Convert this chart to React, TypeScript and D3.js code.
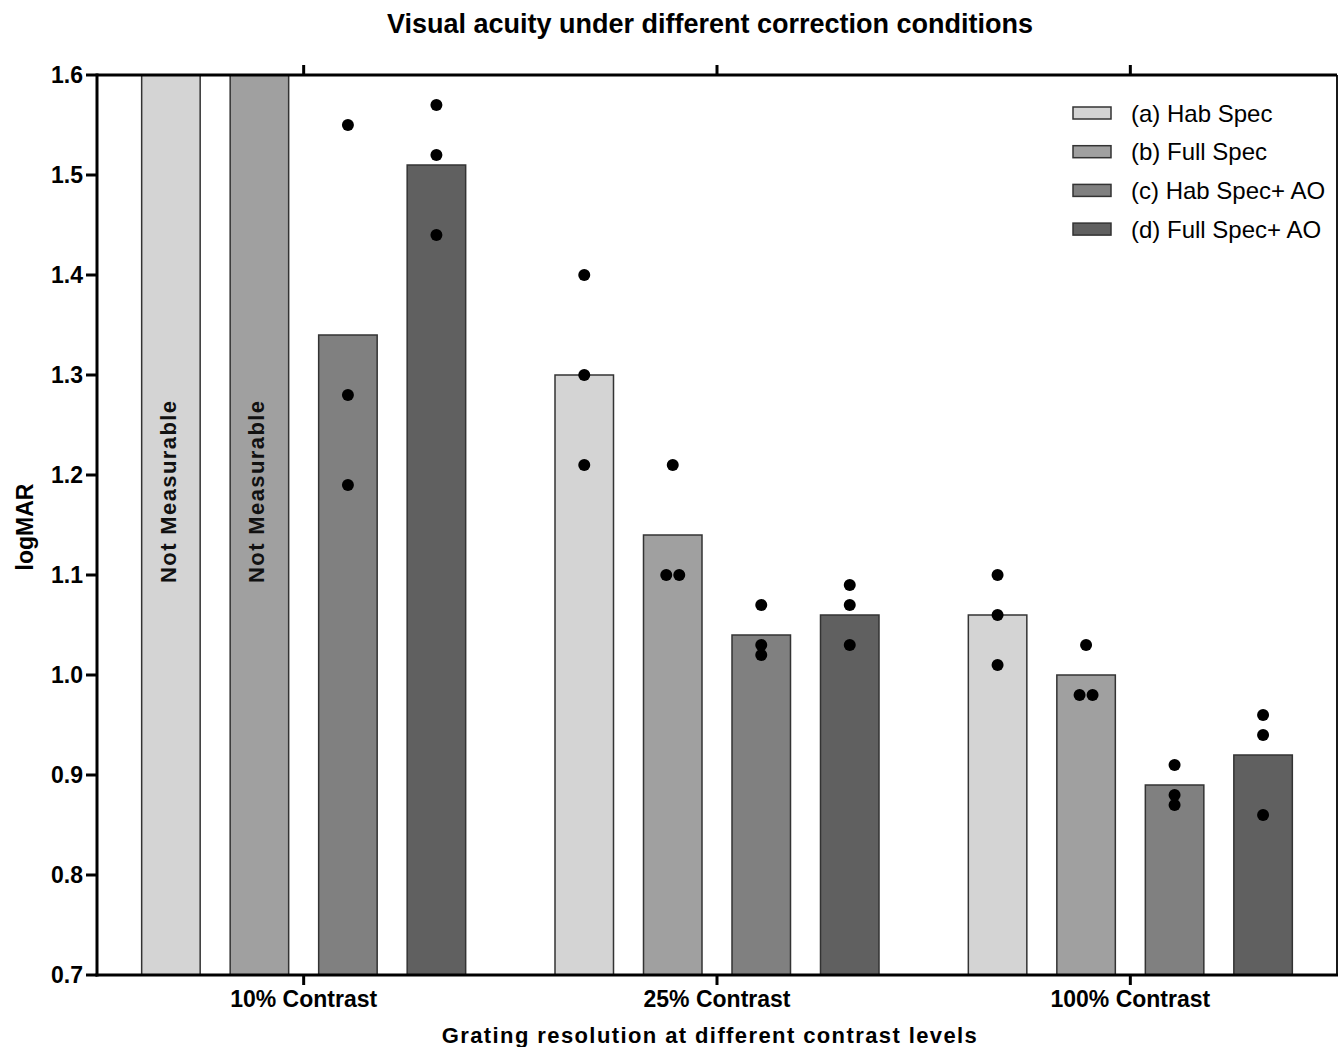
import React from "react";
import * as d3 from "d3";

const groups = ["10% Contrast", "25% Contrast", "100% Contrast"];
const seriesNames = ["(a) Hab Spec", "(b) Full Spec", "(c) Hab Spec+ AO", "(d) Full Spec+ AO"];
const seriesColors = ["#d4d4d4", "#a0a0a0", "#808080", "#606060"];
// mean values per group (rows) per series (cols); null = not measurable
const means: (number | null)[][] = [
  [null, null, 1.34, 1.51],
  [1.30, 1.14, 1.04, 1.06],
  [1.06, 1.00, 0.89, 0.92],
];
// individual points: [value, horizontal jitter slot]
const points: [number, number][][][] = [
  [[], [], [[1.55, 0], [1.28, 0], [1.19, 0]], [[1.57, 0], [1.52, 0], [1.44, 0]]],
  [[[1.40, 0], [1.30, 0], [1.21, 0]], [[1.21, 0], [1.10, -1], [1.10, 1]], [[1.07, 0], [1.03, 0], [1.02, 0]], [[1.09, 0], [1.07, 0], [1.03, 0]]],
  [[[1.10, 0], [1.06, 0], [1.01, 0]], [[1.03, 0], [0.98, -1], [0.98, 1]], [[0.91, 0], [0.88, 0], [0.87, 0]], [[0.96, 0], [0.94, 0], [0.86, 0]]],
];
const yTicks = [0.7, 0.8, 0.9, 1.0, 1.1, 1.2, 1.3, 1.4, 1.5, 1.6];

export default function App() {
  const W = 1339, H = 1047;
  const left = 97, right = 1337, top = 75, bottom = 975;
  const y = d3.scaleLinear().domain([0.7, 1.6]).range([bottom, top]);
  const x0 = d3.scaleBand<string>().domain(groups).range([left, right]).padding(0);
  const step = 88.5, bw = 58.5;
  const barX = (g: number, s: number) => (x0(groups[g]) as number) + x0.bandwidth() / 2 + (s - 1.5) * step - bw / 2;
  const font = "Arial, 'Liberation Sans', Helvetica, sans-serif";

  return (
    <svg width={W} height={H} style={{ position: "absolute", left: 0, top: 0, background: "#fff" }} fontFamily={font}>
      <rect x={0} y={0} width={W} height={H} fill="#fff" />
      <text x={710} y={33} textAnchor="middle" fontSize={27} fontWeight="bold">Visual acuity under different correction conditions</text>

      {/* bars */}
      {means.map((row, g) =>
        row.map((v, s) => {
          const val = v === null ? 1.6 : v;
          const bx = barX(g, s);
          return (
            <g key={`b${g}-${s}`}>
              <rect x={bx} y={y(val)} width={bw} height={bottom - y(val)} fill={seriesColors[s]} stroke="#333" strokeWidth={1.5} />
              {v === null && (
                <text transform={`translate(${bx + bw / 2 + 5},${583}) rotate(-90)`} fontSize={22} fontWeight="bold" letterSpacing={1.4} fill="#111">Not Measurable</text>
              )}
            </g>
          );
        })
      )}

      {/* points */}
      {points.map((row, g) =>
        row.map((pts, s) =>
          pts.map(([v, j], i) => (
            <circle key={`p${g}-${s}-${i}`} cx={barX(g, s) + bw / 2 + j * 6.5} cy={y(v)} r={6} fill="#000" />
          ))
        )
      )}

      {/* frame */}
      <line x1={left} x2={right} y1={top} y2={top} stroke="#000" strokeWidth={3} />
      <line x1={right} x2={right} y1={top} y2={bottom} stroke="#000" strokeWidth={1.8} />
      <line x1={left} x2={left} y1={top - 1.5} y2={bottom + 1.5} stroke="#000" strokeWidth={3} />
      <line x1={left - 1.5} x2={right + 1} y1={bottom} y2={bottom} stroke="#000" strokeWidth={3} />

      {/* y ticks */}
      {yTicks.map((t) => (
        <g key={`yt${t}`}>
          <line x1={left - 11} x2={left} y1={y(t)} y2={y(t)} stroke="#000" strokeWidth={3} />
          <text x={left - 14} y={y(t)} dy="0.36em" textAnchor="end" fontSize={23} fontWeight="bold">{t.toFixed(1)}</text>
        </g>
      ))}

      {/* x ticks */}
      {groups.map((gname) => {
        const cx = (x0(gname) as number) + x0.bandwidth() / 2;
        return (
          <g key={`xt${gname}`}>
            <line x1={cx} x2={cx} y1={bottom} y2={bottom + 10} stroke="#000" strokeWidth={3} />
            <line x1={cx} x2={cx} y1={top} y2={top - 10} stroke="#000" strokeWidth={3} />
            <text x={cx} y={1007} textAnchor="middle" fontSize={23} fontWeight="bold">{gname}</text>
          </g>
        );
      })}

      <text x={710} y={1043} textAnchor="middle" fontSize={22} fontWeight="bold" letterSpacing={1.4}>Grating resolution at different contrast levels</text>
      <text transform={`translate(33,527) rotate(-90)`} textAnchor="middle" fontSize={23} fontWeight="bold">logMAR</text>

      {/* legend */}
      {seriesNames.map((name, i) => {
        const cy = 113 + i * 38.7;
        return (
          <g key={`lg${i}`}>
            <rect x={1073} y={cy - 6} width={38} height={12} fill={seriesColors[i]} stroke="#333" strokeWidth={1.5} />
            <text x={1131} y={cy} dy="0.36em" fontSize={24}>{name}</text>
          </g>
        );
      })}
    </svg>
  );
}
